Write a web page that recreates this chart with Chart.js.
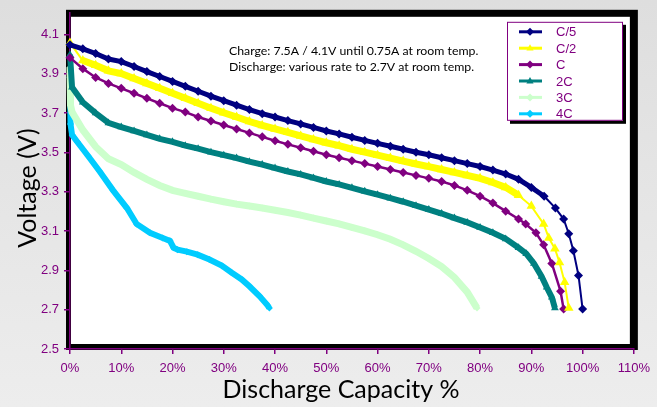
<!DOCTYPE html>
<html>
<head>
<meta charset="utf-8">
<script src="https://cdn.jsdelivr.net/npm/chart.js@4.4.1/dist/chart.umd.min.js"></script>
<style>
  html, body { margin: 0; padding: 0; overflow: hidden; }
  body { width: 657px; height: 407px; background: linear-gradient(#dedede, #ededed); }
  #chart { display: block; }
</style>
</head>
<body>
<canvas id="chart" width="657" height="407"></canvas>
<script>
// values (discharge capacity %, volts)
const capC5 = [0, 2.5, 5, 7.5, 10, 12.5, 15, 17.5, 20, 22.5, 25, 27.5, 30, 32.5, 35, 37.5, 40, 42.5, 45, 47.5, 50, 52.5, 55, 57.5, 60, 62.5, 65, 67.5, 70, 72.5, 75, 77.5, 80, 82.5, 85, 87.5, 90, 92.5, 94.7, 96.3, 97.3, 98.2, 99.2, 100];
const voltC5 = [4.047, 4.027, 4.003, 3.975, 3.962, 3.937, 3.911, 3.886, 3.861, 3.836, 3.811, 3.786, 3.763, 3.740, 3.718, 3.697, 3.680, 3.662, 3.645, 3.627, 3.609, 3.594, 3.577, 3.561, 3.546, 3.531, 3.516, 3.501, 3.488, 3.473, 3.458, 3.443, 3.428, 3.410, 3.390, 3.363, 3.322, 3.277, 3.217, 3.161, 3.086, 3.000, 2.874, 2.703];

const capC2 = [0, 2.5, 5, 7.5, 10, 12.5, 15, 17.5, 20, 22.5, 25, 27.5, 30, 32.5, 35, 37.5, 40, 42.5, 45, 47.5, 50, 52.5, 55, 57.5, 60, 62.5, 65, 67.5, 70, 72.5, 75, 77.5, 80, 82.5, 85, 87.5, 90, 92.4, 93.4, 94.6, 95.5, 96.5, 97.3];
const voltC2 = [4.057, 3.967, 3.943, 3.915, 3.901, 3.876, 3.851, 3.826, 3.801, 3.775, 3.750, 3.725, 3.702, 3.680, 3.657, 3.637, 3.619, 3.602, 3.584, 3.566, 3.549, 3.534, 3.516, 3.501, 3.486, 3.471, 3.456, 3.441, 3.428, 3.413, 3.398, 3.383, 3.368, 3.347, 3.322, 3.282, 3.227, 3.136, 3.065, 3.010, 2.940, 2.839, 2.708];

const capC1 = [0, 2.5, 5, 7.5, 10, 12.5, 15, 17.5, 20, 22.5, 25, 27.5, 30, 32.5, 35, 37.5, 40, 42.5, 45, 47.5, 50, 52.5, 55, 57.5, 60, 62.5, 65, 67.5, 70, 72.5, 75, 77.5, 80, 82.5, 85, 87.5, 88.9, 90.9, 92.4, 94.0, 95.7, 96.3];
const voltC1 = [3.982, 3.926, 3.881, 3.851, 3.826, 3.801, 3.775, 3.750, 3.725, 3.705, 3.680, 3.660, 3.639, 3.619, 3.599, 3.579, 3.559, 3.541, 3.524, 3.506, 3.488, 3.473, 3.458, 3.443, 3.428, 3.413, 3.398, 3.383, 3.368, 3.352, 3.332, 3.307, 3.277, 3.242, 3.201, 3.161, 3.136, 3.091, 3.030, 2.935, 2.794, 2.703];

const cap2C = [0, 0.4, 2.5, 5, 7.5, 10, 12.5, 15, 17.5, 20, 22.5, 25, 27.5, 30, 32.5, 35, 37.5, 40, 42.5, 45, 47.5, 50, 52.5, 55, 57.5, 60, 62.5, 65, 67.5, 70, 72.5, 75, 77.5, 80, 82.5, 85, 87.5, 89, 90.5, 92, 93, 94, 94.6];
const volt2C = [3.997, 3.831, 3.755, 3.700, 3.650, 3.629, 3.609, 3.589, 3.569, 3.554, 3.534, 3.519, 3.501, 3.486, 3.471, 3.453, 3.438, 3.420, 3.403, 3.388, 3.370, 3.352, 3.337, 3.320, 3.302, 3.285, 3.267, 3.249, 3.229, 3.209, 3.189, 3.166, 3.144, 3.118, 3.091, 3.060, 3.015, 2.985, 2.935, 2.869, 2.814, 2.763, 2.708];

const cap3C = [0, 0.1, 0.4, 2.5, 5, 7.5, 10, 12.5, 15, 17.5, 20, 22.5, 25, 27.5, 30, 32.5, 35, 37.5, 40, 42.5, 45, 47.5, 50, 52.5, 55, 57.5, 60, 62.5, 65, 67.5, 70, 72.5, 75, 77.5, 79.4];
const volt3C = [3.932, 3.740, 3.705, 3.614, 3.529, 3.468, 3.438, 3.398, 3.363, 3.332, 3.307, 3.292, 3.277, 3.262, 3.249, 3.237, 3.227, 3.217, 3.206, 3.194, 3.181, 3.166, 3.151, 3.136, 3.118, 3.101, 3.081, 3.058, 3.030, 2.997, 2.960, 2.919, 2.864, 2.789, 2.708];

const cap4C = [0, 0.1, 0.4, 1.4, 3.5, 5.8, 8.4, 11.1, 13.0, 15.6, 18.1, 19.5, 20.2, 21.0, 22.8, 24.9, 27.2, 29.6, 31.5, 33.5, 35.0, 37.0, 38.5, 38.9];
const volt4C = [3.881, 3.645, 3.589, 3.554, 3.483, 3.403, 3.307, 3.217, 3.136, 3.091, 3.065, 3.050, 3.015, 3.005, 2.995, 2.980, 2.955, 2.924, 2.889, 2.854, 2.819, 2.768, 2.723, 2.708];

const seriesNames = ["C/5", "C/2", "C", "2C", "3C", "4C"];
const xTicks = [0, 10, 20, 30, 40, 50, 60, 70, 80, 90, 100, 110];
const yTicks = [2.5, 2.7, 2.9, 3.1, 3.3, 3.5, 3.7, 3.9, 4.1];

const PURPLE = "#800080";
const TICK_FONT = { family: "'Liberation Sans', Arial, sans-serif", size: 13 };

function pts(xs, ys) {
    return xs.map((x, i) => ({ x: x, y: ys[i] }));
}

// thin line where the curve drops steeply (the tail), thick band elsewhere
function tailWidth(thick, thin) {
    return (ctx) => (ctx.p0.parsed.y - ctx.p1.parsed.y > 0.045 ? thin : thick);
}

const datasets = [
    { label: seriesNames[0], data: pts(capC5, voltC5), borderColor: "#000080", backgroundColor: "#000080",
      borderWidth: 5, pointStyle: "rectRot", pointRadius: 4.5, segment: { borderWidth: tailWidth(5, 2) } },
    { label: seriesNames[1], data: pts(capC2, voltC2), borderColor: "#ffff00", backgroundColor: "#ffff00",
      borderWidth: 7, pointStyle: "triangle", pointRadius: 5.5, segment: { borderWidth: tailWidth(7, 2) } },
    { label: seriesNames[2], data: pts(capC1, voltC1), borderColor: PURPLE, backgroundColor: PURPLE,
      borderWidth: 2.5, pointStyle: "rectRot", pointRadius: 4.5 },
    { label: seriesNames[3], data: pts(cap2C, volt2C), borderColor: "#008080", backgroundColor: "#008080",
      borderWidth: 6, pointStyle: "triangle", pointRadius: 4.5 },
    { label: seriesNames[4], data: pts(cap3C, volt3C), borderColor: "#ccffcc", backgroundColor: "#ccffcc",
      borderWidth: 7, pointStyle: "rectRot", pointRadius: 3.5 },
    { label: seriesNames[5], data: pts(cap4C, volt4C), borderColor: "#00ccff", backgroundColor: "#00ccff",
      borderWidth: 6, pointStyle: "rectRot", pointRadius: 3.5 },
];
datasets.forEach((d) => {
    d.showLine = true;
    d.tension = 0;
    d.clip = false;
    d.pointBorderWidth = 0;
});

// black frame with white plot face behind the axes
const framePlugin = {
    id: "frame",
    beforeDraw(chart) {
        const { ctx, chartArea: a } = chart;
        ctx.save();
        ctx.fillStyle = "#000";
        ctx.fillRect(a.left - 4, a.top - 3, a.right - a.left + 8, a.bottom - a.top + 4);
        ctx.fillStyle = "#fff";
        ctx.fillRect(a.left + 1, a.top + 4, a.right - a.left - 5, a.bottom - a.top - 9);
        ctx.restore();
    },
};

function drawMarker(ctx, style, x, y, r) {
    ctx.beginPath();
    if (style === "triangle") {
        ctx.moveTo(x, y - r);
        ctx.lineTo(x + r * 0.9, y + r * 0.6);
        ctx.lineTo(x - r * 0.9, y + r * 0.6);
    } else {
        ctx.moveTo(x, y - r);
        ctx.lineTo(x + r, y);
        ctx.lineTo(x, y + r);
        ctx.lineTo(x - r, y);
    }
    ctx.closePath();
    ctx.fill();
}

// legend box, note text and axis titles
const decorPlugin = {
    id: "decor",
    afterDraw(chart) {
        const { ctx, chartArea: a } = chart;
        ctx.save();

        // note
        ctx.fillStyle = "#000";
        ctx.font = "12.3px Lato, 'Open Sans', sans-serif";
        ctx.textBaseline = "middle";
        ctx.textAlign = "left";
        ctx.fillText("Charge: 7.5A / 4.1V until 0.75A at room temp.", a.left + 159, a.top + 38);
        ctx.fillText("Discharge: various rate to 2.7V at room temp.", a.left + 159, a.top + 54);

        // legend
        const bx = a.left + 437, by = a.top + 9, bw = 116, bh = 99;
        ctx.fillStyle = "#000";
        ctx.fillRect(bx + 3, by + 3, bw, bh);
        ctx.fillStyle = "#fff";
        ctx.fillRect(bx, by, bw, bh);
        ctx.strokeStyle = PURPLE;
        ctx.lineWidth = 1;
        ctx.strokeRect(bx + 0.5, by + 0.5, bw - 1, bh - 1);
        ctx.font = "13px 'Liberation Sans', Arial, sans-serif";
        chart.data.datasets.forEach((d, i) => {
            const y = by + 10 + i * 16.4;
            ctx.strokeStyle = d.borderColor;
            ctx.lineWidth = 3;
            ctx.beginPath();
            ctx.moveTo(bx + 12, y);
            ctx.lineTo(bx + 35, y);
            ctx.stroke();
            ctx.fillStyle = d.borderColor;
            drawMarker(ctx, d.pointStyle, bx + 23, y, 4);
            ctx.fillStyle = PURPLE;
            ctx.fillText(d.label, bx + 49, y + 1);
        });

        // axis titles
        ctx.fillStyle = "#000";
        ctx.font = "25px Lato, 'Open Sans', sans-serif";
        ctx.textAlign = "center";
        ctx.fillText("Discharge Capacity %", 341, 390);
        ctx.translate(28, 188);
        ctx.rotate(-Math.PI / 2);
        ctx.fillText("Voltage (V)", 0, 0);
        ctx.restore();
    },
};

new Chart(document.getElementById("chart"), {
    type: "scatter",
    data: { datasets },
    options: {
        responsive: false,
        animation: false,
        layout: { padding: { top: 10, right: 21, left: 0, bottom: 0 } },
        plugins: { legend: { display: false }, tooltip: { enabled: false } },
        scales: {
            x: {
                type: "linear",
                min: 0,
                max: 110,
                afterBuildTicks: (s) => { s.ticks = xTicks.map((v) => ({ value: v })); },
                afterFit: (s) => { s.height = 58; },
                ticks: { callback: (v) => v + "%", color: PURPLE, font: TICK_FONT, padding: 7, maxRotation: 0 },
                grid: { drawOnChartArea: false, drawTicks: true, tickLength: 5, color: PURPLE, lineWidth: 1.5 },
                border: { color: PURPLE, width: 1.5 },
            },
            y: {
                type: "linear",
                min: 2.5,
                max: 4.21,
                afterBuildTicks: (s) => { s.ticks = yTicks.map((v) => ({ value: v })); },
                afterFit: (s) => { s.width = 70; },
                ticks: { callback: (v) => v.toFixed(1), color: PURPLE, font: TICK_FONT, padding: 5 },
                grid: { drawOnChartArea: false, drawTicks: true, tickLength: 6, color: PURPLE, lineWidth: 1.5 },
                border: { color: PURPLE, width: 1.5 },
            },
        },
    },
    plugins: [framePlugin, decorPlugin],
});
</script>
</body>
</html>
